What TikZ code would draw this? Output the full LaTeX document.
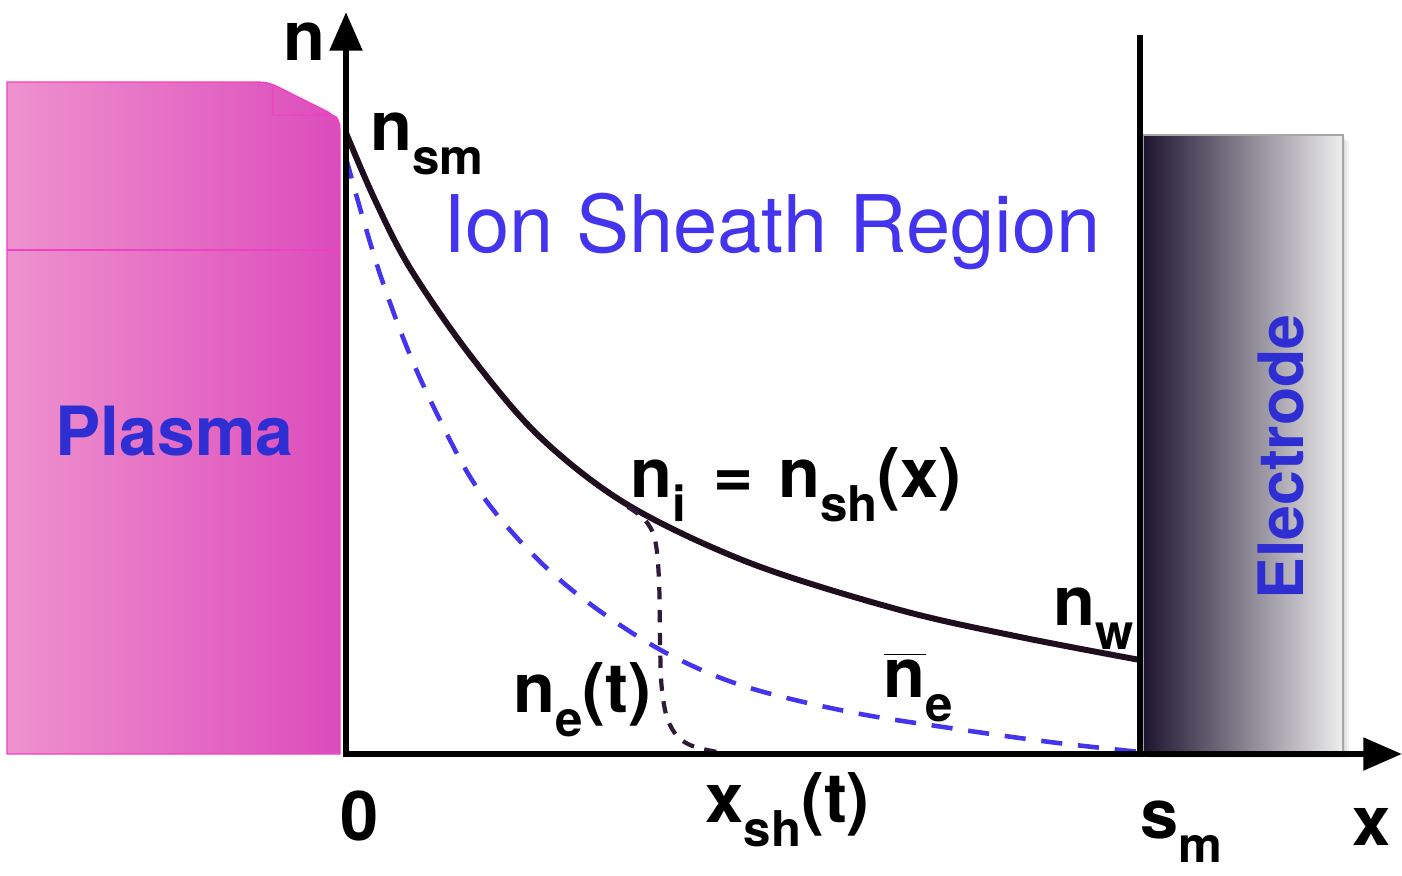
\documentclass[tikz,border=0pt]{standalone}
\usepackage{fontspec}
\setmainfont{TeX Gyre Heros}
\usetikzlibrary{arrows.meta}
\definecolor{plasmaL}{HTML}{EE92CE}
\definecolor{plasmaR}{HTML}{DC4CBC}
\definecolor{plasmaEdge}{HTML}{F040C4}
\definecolor{sheathblue}{HTML}{4434EE}
\definecolor{labelblue}{HTML}{2E2ED2}
\definecolor{electrodeL}{HTML}{1E1430}
\definecolor{electrodeR}{HTML}{EEEEEE}
\definecolor{curveion}{HTML}{1E0E1E}
\definecolor{curveel}{HTML}{301A3A}
\newcommand{\lsub}[1]{\raisebox{-0.36em}{\fontsize{14pt}{14pt}\selectfont #1}}

\begin{document}
\begin{tikzpicture}[x=0.01cm,y=-0.01cm,
  lbl/.style={inner sep=0pt,anchor=base west,font=\fontsize{19.5pt}{20pt}\selectfont\bfseries},
  axis/.style={line width=1.8pt,{Triangle[length=11pt,width=9pt]}-{Triangle[length=11pt,width=9pt]}}]
\useasboundingbox (0,0) rectangle (1402,875);

% plasma block
\shade[left color=plasmaL,right color=plasmaR,draw=plasmaEdge,line width=0.4pt]
  (7,754) -- (7,82) -- (255,82) .. controls (268,82) and (272,84) .. (280,88) -- (328,112)
  .. controls (336,117) and (340,122) .. (340,132) -- (340,754) -- cycle;
\draw[plasmaEdge,line width=0.4pt] (273,86) -- (273,115) -- (328,115) .. controls (337,116) .. (340,126);
\draw[plasmaEdge,line width=0.6pt] (7,250) -- (340,250);
\node[inner sep=0pt,anchor=base west,font=\fontsize{19.3pt}{20pt}\selectfont\bfseries,text=labelblue] (plasma) at (55,455) {Plasma};

% electrode
\foreach \s in {2,4,6}
  \fill[black,opacity=0.05] (1143+\s,135+\s) rectangle (1343+\s,752+\s);
\shade[left color=electrodeL,right color=electrodeR,draw=gray!70,line width=0.4pt] (1143,135) rectangle (1343,752);
\node[rotate=90,anchor=base,inner sep=0pt,font=\fontsize{17.8pt}{18pt}\selectfont\bfseries,text=labelblue] (electrode) at (1303,457) {Electrode};

% density profiles
\draw[sheathblue,line width=1.3pt,dash pattern=on 6pt off 4.5pt]
  plot[smooth,tension=0.6] coordinates {(346,158) (362,215) (382,280) (410,355) (440,420) (472,480) (510,530) (560,580) (620,625) (680,660) (750,688) (850,712) (950,728) (1050,742) (1140,752)};
\draw[curveion,line width=1.7pt]
  plot[smooth,tension=0.55] coordinates {(346,133) (375,200) (410,268) (470,355) (540,437) (628,505) (750,563) (900,610) (1020,637) (1140,660)};
\draw[curveel,line width=1.2pt,dash pattern=on 3.5pt off 3pt]
  plot[smooth,tension=0.6] coordinates {(628,507) (645,520) (655,540) (659,580) (660,640) (662,690) (670,725) (690,745) (735,755)};

% axes and wall
\coordinate (origin) at (346,754);
\coordinate (ytip) at (346,12);
\coordinate (xtip) at (1402,754);
\coordinate (wtop) at (1140,35);
\coordinate (wbot) at (1140,754);
\draw[axis] (ytip) -- (origin) -- (xtip);
\draw[line width=1.8pt] (wtop) -- (wbot);

% labels
\node[lbl] (nax) at (283,60) {n};
\node[lbl] (nsm) at (370,150) {n\lsub{sm}};
\node[inner sep=0pt,anchor=base west,font=\fontsize{22.6pt}{24pt}\selectfont,text=sheathblue] (region) at (443,252) {Ion Sheath Region};
\node[lbl] (ni) at (630,497) {n\lsub{i}\hspace{0.12em} = \hspace{0.08em}n\lsub{sh}(x)};
\node[lbl] (nw) at (1053,625) {n\lsub{w}};
\node[lbl] (nbar) at (883,697) {$\overline{\hbox{n}}$\lsub{e}};
\node[lbl] (net) at (513,712) {n\lsub{e}(t)};
\node[lbl] (zero) at (340,840) {0};
\node[lbl] (xsh) at (705,822) {x\lsub{sh}(t)};
\node[lbl] (sm) at (1140,838) {s\lsub{m}};
\node[lbl] (xax) at (1352,845) {x};
\end{tikzpicture}
\end{document}
